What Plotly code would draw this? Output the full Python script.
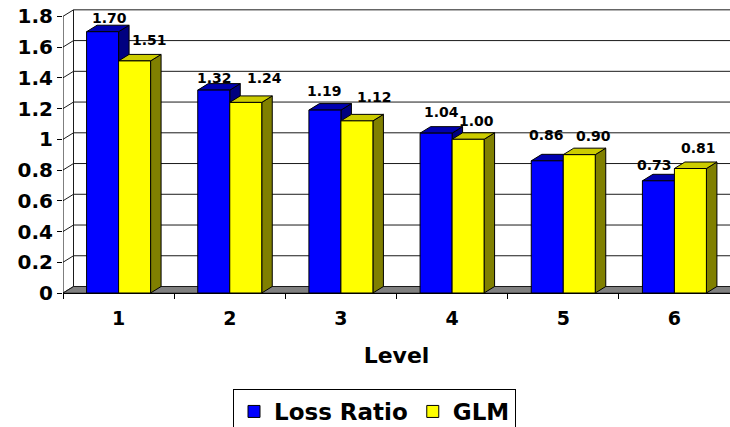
import plotly.graph_objects as go

# ---- data -------------------------------------------------------------
levels = [1, 2, 3, 4, 5, 6]
loss_ratio = [1.70, 1.32, 1.19, 1.04, 0.86, 0.73]
glm = [1.51, 1.24, 1.12, 1.00, 0.90, 0.81]
y_ticks = [0, 0.2, 0.4, 0.6, 0.8, 1.0, 1.2, 1.4, 1.6, 1.8]
y_tick_text = ["0", "0.2", "0.4", "0.6", "0.8", "1", "1.2", "1.4", "1.6", "1.8"]

# ---- styling ------------------------------------------------------------
FONT = "DejaVu Sans"
BLUE, BLUE_TOP, BLUE_SIDE = "#0000FF", "#0000B0", "#000080"
YEL, YEL_TOP, YEL_SIDE = "#FFFF00", "#CCCC00", "#808000"
GRID = "#1a1a1a"

# value-label nudges in px (right, up) relative to each bar's front top
lr_label_shift = [(7, 14), (1, 12), (0, 19), (5, 21), (-1, 26), (-4, 16)]
glm_label_shift = [(15, 21), (19, 24), (18, 24), (8, 18), (14, 19), (8, 21)]

# plot-area geometry (px)
W, H = 730, 427
M_L, M_R, M_T, M_B = 63, 0, 5, 134
PX_X = (W - M_L - M_R) / 6.0          # px per category
PX_Y = 153.7                           # px per unit of value
Y_MAX = (H - M_T - M_B) / PX_Y

# pseudo-3D depth (in data units)
DX = 10.5 / PX_X
DY = 6.5 / PX_Y
BW = 32 / PX_X                         # bar width in category units

X0, X1 = 0.5, 6.5
TOP = y_ticks[-1]


def poly(pts):
    return "M " + " L ".join(f"{x:.5f},{y:.5f}" for x, y in pts) + " Z"


shapes = []

# floor
shapes.append(dict(type="path", xref="x", yref="y", layer="below",
                   path=poly([(X0, 0), (X1, 0), (X1 + DX, DY), (X0 + DX, DY)]),
                   fillcolor="#808080", line=dict(color="#404040", width=1)))

# back wall gridlines and left wall diagonals
for t in y_ticks:
    shapes.append(dict(type="line", xref="x", yref="y", layer="below",
                       x0=X0 + DX, y0=t + DY, x1=X1 + DX, y1=t + DY,
                       line=dict(color=GRID, width=1)))
    shapes.append(dict(type="line", xref="x", yref="y", layer="below",
                       x0=X0, y0=t, x1=X0 + DX, y1=t + DY,
                       line=dict(color=GRID, width=1)))

# back wall left edge and front value axis
shapes.append(dict(type="line", xref="x", yref="y", layer="below",
                   x0=X0 + DX, y0=DY, x1=X0 + DX, y1=TOP + DY,
                   line=dict(color=GRID, width=1)))
shapes.append(dict(type="line", xref="x", yref="y", layer="above",
                   x0=X0, y0=0, x1=X0, y1=TOP,
                   line=dict(color="black", width=1)))


def bar_faces(xl, xr, v, top_col, side_col):
    top = poly([(xl, v), (xr, v), (xr + DX, v + DY), (xl + DX, v + DY)])
    side = poly([(xr, 0), (xr + DX, DY), (xr + DX, v + DY), (xr, v)])
    edge = dict(color="black", width=1)
    return [
        dict(type="path", xref="x", yref="y", layer="below", path=side,
             fillcolor=side_col, line=edge),
        dict(type="path", xref="x", yref="y", layer="below", path=top,
             fillcolor=top_col, line=edge),
    ]


# top and side faces: blue first, then yellow over it
for k, a, b in zip(levels, loss_ratio, glm):
    shapes += bar_faces(k - BW, k, a, BLUE_TOP, BLUE_SIDE)
    shapes += bar_faces(k, k + BW, b, YEL_TOP, YEL_SIDE)

# value labels
annotations = []
for k, a, b, sa, sb in zip(levels, loss_ratio, glm, lr_label_shift, glm_label_shift):
    for xc, v, s in ((k - BW / 2, a, sa), (k + BW / 2, b, sb)):
        annotations.append(dict(
            x=xc, y=v, xref="x", yref="y", text=f"{v:.2f}", showarrow=False,
            xanchor="center", yanchor="middle", xshift=s[0], yshift=s[1],
            font=dict(family=FONT, size=14, color="black", weight="bold")))

fig = go.Figure()
fig.add_trace(go.Bar(x=levels, y=loss_ratio, name="Loss Ratio",
                     marker=dict(color=BLUE, line=dict(color="black", width=1)),
                     hoverinfo="skip"))
fig.add_trace(go.Bar(x=levels, y=glm, name="GLM",
                     marker=dict(color=YEL, line=dict(color="black", width=1)),
                     hoverinfo="skip"))

fig.update_layout(
    width=W, height=H,
    margin=dict(l=M_L, r=M_R, t=M_T, b=M_B),
    paper_bgcolor="white", plot_bgcolor="white",
    barmode="group", bargap=1 - 2 * BW, bargroupgap=0,
    font=dict(family=FONT, color="black"),
    shapes=shapes, annotations=annotations,
    showlegend=True,
    legend=dict(orientation="h", xref="container", yref="container",
                x=374.5 / W, xanchor="center", y=1 - 389 / H, yanchor="top",
                bordercolor="black", borderwidth=1, bgcolor="white",
                itemwidth=30,
                font=dict(family=FONT, size=23, color="black", weight="bold")),
)

fig.update_xaxes(
    range=[X0, X1], tickmode="array", tickvals=levels,
    ticktext=[str(v) for v in levels], ticks="", showgrid=False, zeroline=False,
    showline=True, linecolor="black", linewidth=1, ticklabelstandoff=8,
    minor=dict(tickmode="array", tickvals=[k - 0.5 for k in levels],
               ticks="outside", ticklen=5, tickcolor="black", tickwidth=1,
               showgrid=False),
    tickfont=dict(family=FONT, size=19, color="black", weight="bold"),
    title=dict(text="Level", standoff=19,
               font=dict(family=FONT, size=22, color="black", weight="bold")),
)
fig.update_yaxes(
    range=[0, Y_MAX], tickmode="array", tickvals=y_ticks, ticktext=y_tick_text,
    ticks="outside", ticklen=5, tickcolor="black", tickwidth=1,
    showgrid=False, zeroline=False, showline=False,
    tickfont=dict(family=FONT, size=20, color="black", weight="bold"),
)

fig.write_html("out.html")
